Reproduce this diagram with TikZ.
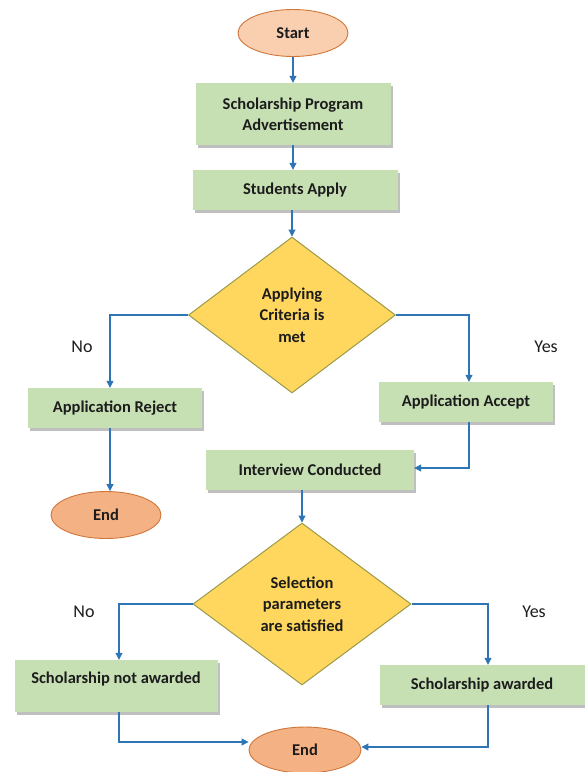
\documentclass[tikz,border=0pt]{standalone}
\usepackage{fontspec}
\setmainfont{Carlito}
\usetikzlibrary{shapes.geometric,arrows.meta,shadows}
\definecolor{boxgreen}{HTML}{C6E0B4}
\definecolor{startfill}{HTML}{F9CFB0}
\definecolor{endfill}{HTML}{F4B183}
\definecolor{ovalline}{HTML}{D0763A}
\definecolor{diafill}{HTML}{FFD75E}
\definecolor{dialine}{HTML}{9A9A4A}
\definecolor{arrowblue}{HTML}{2E75B6}
\definecolor{txt}{HTML}{1C1C1C}
\tikzset{
  stepbox/.style={draw=none, fill=boxgreen, minimum height=40pt, align=center,
    font=\fontsize{16.5}{21}\selectfont\bfseries, text=txt,
    drop shadow={shadow xshift=2pt, shadow yshift=-3pt, fill=black, opacity=0.25}},
  ovalbox/.style={ellipse, draw=ovalline, line width=0.9pt, minimum width=110pt,
    minimum height=47pt, inner sep=0pt, font=\fontsize{16.5}{20}\selectfont\bfseries, text=txt},
  decbox/.style={diamond, draw=dialine, line width=1pt, fill=diafill, inner sep=0pt,
    align=center, font=\fontsize{16.5}{21.5}\selectfont\bfseries, text=txt},
  flow/.style={draw=arrowblue, line width=1.1pt, -{Triangle[length=7pt,width=7pt]}},
  lab/.style={font=\fontsize{18}{20}\selectfont, text=txt}
}
\begin{document}
\begin{tikzpicture}[x=1pt,y=-1pt]
\useasboundingbox (0,0) rectangle (585,772);
% nodes
\node[ovalbox, fill=startfill] (start) at (293,33) {Start};
\node[stepbox, minimum width=195pt, minimum height=62pt] (adv) at (293,114) {Scholarship Program\\Advertisement};
\node[stepbox, minimum width=205pt] (apply) at (295,190) {Students Apply};
\node[decbox, minimum width=207pt, minimum height=156pt] (crit) at (292,315) {Applying\\Criteria is\\met};
\node[stepbox, minimum width=174pt] (reject) at (115,408) {Application Reject};
\node[stepbox, minimum width=174pt] (accept) at (466,402) {Application Accept};
\node[ovalbox, fill=endfill] (end1) at (106,515) {End};
\node[stepbox, minimum width=208pt] (interview) at (310,470) {Interview Conducted};
\node[decbox, minimum width=218pt, minimum height=162pt] (sel) at (302,604) {Selection\\parameters\\are satisfied};
\node[stepbox, minimum width=203pt, minimum height=52pt, text depth=16pt] (notaw) at (116,686) {Scholarship not awarded};
\node[stepbox, minimum width=205pt] (aw) at (482,685) {Scholarship awarded};
\node[ovalbox, fill=endfill, minimum width=112pt, minimum height=46pt] (end2) at (305,750) {End};
% labels
\node[lab] (no1) at (82,347) {No};
\node[lab] (yes1) at (546,347) {Yes};
\node[lab] (no2) at (84,612) {No};
\node[lab] (yes2) at (534,612) {Yes};
% helper coordinates
\coordinate (c1) at (110,315);
\coordinate (c2) at (469,315);
\coordinate (c3) at (469,468);
\coordinate (c4) at (119,604);
\coordinate (c5) at (488,604);
\coordinate (c6) at (119,742);
\coordinate (c7) at (488,747);
% connectors
\draw[flow] (start.south) -- (adv.north);
\draw[flow] (adv.south) -- (adv.south |- apply.north);
\draw[flow] (apply.south -| crit.north) -- (crit.north);
\draw[flow] (crit.west) -- (c1) -- (c1 |- reject.north);
\draw[flow] (crit.east) -- (c2) -- (c2 |- accept.north);
\draw[flow] (c1 |- reject.south) -- (c1 |- end1.north);
\draw[flow] (c2 |- accept.south) -- (c3) -- (interview.east |- c3);
\draw[flow] (interview.south -| sel.north) -- (sel.north);
\draw[flow] (sel.west) -- (c4) -- (c4 |- notaw.north);
\draw[flow] (sel.east) -- (c5) -- (c5 |- aw.north);
\draw[flow] (c6 |- notaw.south) -- (c6) -- (end2.west |- c6);
\draw[flow] (c7 |- aw.south) -- (c7) -- (end2.east |- c7);
\end{tikzpicture}
\end{document}
